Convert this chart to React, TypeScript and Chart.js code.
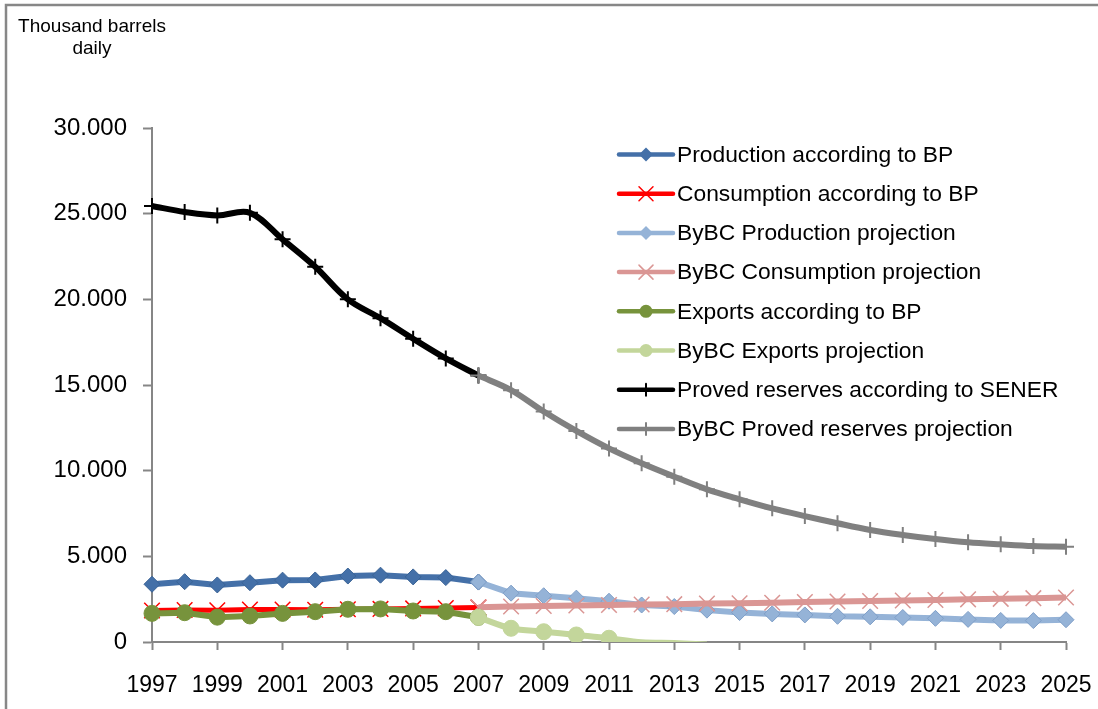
import React, { useEffect, useRef } from 'react';
import { Chart, registerables } from 'chart.js';

Chart.register(...registerables);

const years = ['1997', '1998', '1999', '2000', '2001', '2002', '2003', '2004', '2005', '2006', '2007', '2008', '2009', '2010', '2011', '2012', '2013', '2014', '2015', '2016', '2017', '2018', '2019', '2020', '2021', '2022', '2023', '2024', '2025'];

// historical series: 1997..2007
const productionBP = [3370, 3520, 3330, 3460, 3610, 3620, 3850, 3900, 3800, 3760, 3500];
const consumptionBP = [1840, 1870, 1850, 1890, 1890, 1880, 1910, 1930, 1960, 1980, 2020];
const exportsBP = [1670, 1710, 1450, 1520, 1670, 1770, 1910, 1930, 1810, 1770, 1440];
const reservesSENER = [25450, 25100, 24900, 25050, 23500, 21900, 20000, 18900, 17700, 16550, 15550];

// projections: 2007..
const productionProj = [3500, 2850, 2700, 2560, 2380, 2160, 2070, 1860, 1720, 1640, 1580, 1500, 1470, 1430, 1380, 1320, 1260, 1250, 1300];
const consumptionProj = [2030, 2070, 2100, 2130, 2160, 2190, 2210, 2240, 2260, 2290, 2330, 2360, 2390, 2420, 2450, 2490, 2520, 2560, 2600];
const exportsProj = [1440, 800, 600, 410, 220, -20, -60, -150];
const reservesProj = [15550, 14700, 13450, 12320, 11300, 10430, 9650, 8910, 8330, 7800, 7350, 6930, 6540, 6250, 6010, 5820, 5700, 5600, 5560];

const yTicks = [0, 5000, 10000, 15000, 20000, 25000, 30000];

const seriesNames = [
  'Production according to BP',
  'Consumption according to BP',
  'ByBC Production projection',
  'ByBC Consumption projection',
  'Exports according to BP',
  'ByBC Exports projection',
  'Proved reserves according to SENER',
  'ByBC Proved reserves projection',
];
const seriesColors = ['#4470A8', '#FF0000', '#95B3D7', '#DA9694', '#77933C', '#C3D69B', '#000000', '#808080'];
const seriesMarkers = ['rectRot', 'crossRot', 'rectRot', 'crossRot', 'circle', 'circle', 'cross', 'cross'];

const FONT = "'Liberation Sans', Arial, sans-serif";
const AXIS_GREY = '#868686';

function place(values: number[], start: number): (number | null)[] {
  const out: (number | null)[] = years.map(() => null);
  values.forEach((v, i) => {
    out[start + i] = v;
  });
  return out;
}

function drawMarker(ctx: CanvasRenderingContext2D, type: string, x: number, y: number, color: string) {
  ctx.save();
  ctx.fillStyle = color;
  ctx.strokeStyle = color;
  ctx.beginPath();
  if (type === 'rectRot') {
    const r = 7;
    ctx.moveTo(x, y - r);
    ctx.lineTo(x + r, y);
    ctx.lineTo(x, y + r);
    ctx.lineTo(x - r, y);
    ctx.closePath();
    ctx.fill();
  } else if (type === 'circle') {
    ctx.arc(x, y, 6.5, 0, Math.PI * 2);
    ctx.fill();
  } else if (type === 'crossRot') {
    const d = 7;
    ctx.lineWidth = 1.5;
    ctx.moveTo(x - d, y - d);
    ctx.lineTo(x + d, y + d);
    ctx.moveTo(x + d, y - d);
    ctx.lineTo(x - d, y + d);
    ctx.stroke();
  } else if (type === 'cross') {
    ctx.lineWidth = 2;
    ctx.moveTo(x, y - 6);
    ctx.lineTo(x, y + 6);
    ctx.stroke();
  }
  ctx.restore();
}

const framePlugin = {
  id: 'frameAndLegend',
  beforeDraw(chart: any) {
    const ctx = chart.ctx as CanvasRenderingContext2D;
    ctx.save();
    ctx.fillStyle = '#ffffff';
    ctx.fillRect(0, 0, chart.width, chart.height);
    ctx.strokeStyle = '#878787';
    ctx.lineWidth = 2.5;
    ctx.strokeRect(6, 5, chart.width + 20, chart.height + 20);
    // unit title
    ctx.fillStyle = '#000000';
    ctx.font = `19px ${FONT}`;
    ctx.textAlign = 'center';
    ctx.textBaseline = 'alphabetic';
    ctx.fillText('Thousand barrels', 92, 32);
    ctx.fillText('daily', 92, 54);
    ctx.restore();
  },
  afterDraw(chart: any) {
    const ctx = chart.ctx as CanvasRenderingContext2D;
    ctx.save();
    const x0 = 619;
    const x1 = 673;
    const yStart = 154.5;
    const step = 39.2;
    ctx.font = `22.8px ${FONT}`;
    ctx.textAlign = 'left';
    ctx.textBaseline = 'middle';
    chart.data.datasets.forEach((ds: any, i: number) => {
      const y = yStart + i * step;
      ctx.strokeStyle = seriesColors[i];
      ctx.lineWidth = 4.5;
      ctx.lineCap = 'round';
      ctx.beginPath();
      ctx.moveTo(x0, y);
      ctx.lineTo(x1, y);
      ctx.stroke();
      drawMarker(ctx, seriesMarkers[i], (x0 + x1) / 2, y, seriesColors[i]);
      ctx.fillStyle = '#000000';
      ctx.fillText(ds.label, 677, y + 1);
    });
    ctx.restore();
  },
};

const seriesValues = [
  place(productionBP, 0),
  place(consumptionBP, 0),
  place(productionProj, 10),
  place(consumptionProj, 10),
  place(exportsBP, 0),
  place(exportsProj, 10),
  place(reservesSENER, 0),
  place(reservesProj, 10),
];

export default function App() {
  const canvasRef = useRef<HTMLCanvasElement | null>(null);

  useEffect(() => {
    if (!canvasRef.current) return;
    const datasets = seriesNames.map((name, i) => {
      const marker = seriesMarkers[i];
      const isCross = marker === 'crossRot';
      const isPlus = marker === 'cross';
      const smooth = i >= 5;
      const isExportProj = i === 5;
      return {
        label: name,
        data: seriesValues[i],
        borderColor: seriesColors[i],
        backgroundColor: seriesColors[i],
        borderWidth: i === 1 ? 5 : 6,
        pointStyle: marker,
        pointRadius: isExportProj
          ? (c: any) => (c.raw !== null && c.raw < 0 ? 0 : 8)
          : marker === 'circle'
          ? 8
          : isCross
          ? 11
          : 8,
        pointBackgroundColor: seriesColors[i],
        pointBorderColor: i === 0 ? '#3A6396' : i === 2 ? '#7F9FC8' : seriesColors[i],
        pointBorderWidth: isCross ? 1.5 : isPlus ? 2 : 1,
        tension: smooth ? 0.35 : 0,
        spanGaps: false,
        fill: false,
        order: 8 - i,
        clip: isExportProj ? { left: false, right: false, top: false, bottom: 0 } : false,
      };
    });

    const chart = new Chart(canvasRef.current, {
      type: 'line',
      data: { labels: years, datasets: datasets as any },
      options: {
        animation: false,
        responsive: false,
        devicePixelRatio: 1,
        layout: { padding: { left: 0, top: 128, right: 32, bottom: 0 } },
        plugins: {
          legend: { display: false },
          tooltip: { enabled: false },
          title: { display: false },
        },
        scales: {
          x: {
            type: 'category',
            offset: false,
            afterFit: (s: any) => {
              s.height = 67;
              s.paddingLeft = 0;
              s.paddingRight = 0;
            },
            grid: {
              display: true,
              drawOnChartArea: false,
              drawTicks: true,
              tickLength: 8,
              tickWidth: 2,
              tickColor: (c: any) => (c.index % 2 === 0 ? AXIS_GREY : 'rgba(0,0,0,0)'),
            },
            border: { display: true, color: AXIS_GREY, width: 2 },
            ticks: {
              autoSkip: false,
              maxRotation: 0,
              minRotation: 0,
              padding: 22,
              color: '#000000',
              font: { family: FONT, size: 23 },
              callback: (_v: any, idx: number) => (idx % 2 === 0 ? years[idx] : ''),
            },
          },
          y: {
            type: 'linear',
            min: 0,
            max: 30000,
            afterFit: (s: any) => {
              s.width = 152;
              s.paddingTop = 0;
              s.paddingBottom = 0;
            },
            afterBuildTicks: (s: any) => {
              s.ticks = yTicks.map((v) => ({ value: v }));
            },
            grid: {
              display: true,
              drawOnChartArea: false,
              drawTicks: true,
              tickLength: 9,
              tickWidth: 2,
              tickColor: AXIS_GREY,
            },
            border: { display: true, color: AXIS_GREY, width: 2 },
            ticks: {
              padding: 16,
              color: '#000000',
              font: { family: FONT, size: 24 },
              callback: (v: any) => (Number(v) === 0 ? '0' : Number(v).toLocaleString('de-DE', { minimumFractionDigits: 0 }).replace(',', '.')),
            },
          },
        },
      },
      plugins: [framePlugin],
    });
    return () => chart.destroy();
  }, []);

  return (
    <div style={{ position: 'absolute', left: 0, top: 0, width: 1098, height: 709 }}>
      <canvas ref={canvasRef} width={1098} height={709} style={{ display: 'block' }} />
    </div>
  );
}
